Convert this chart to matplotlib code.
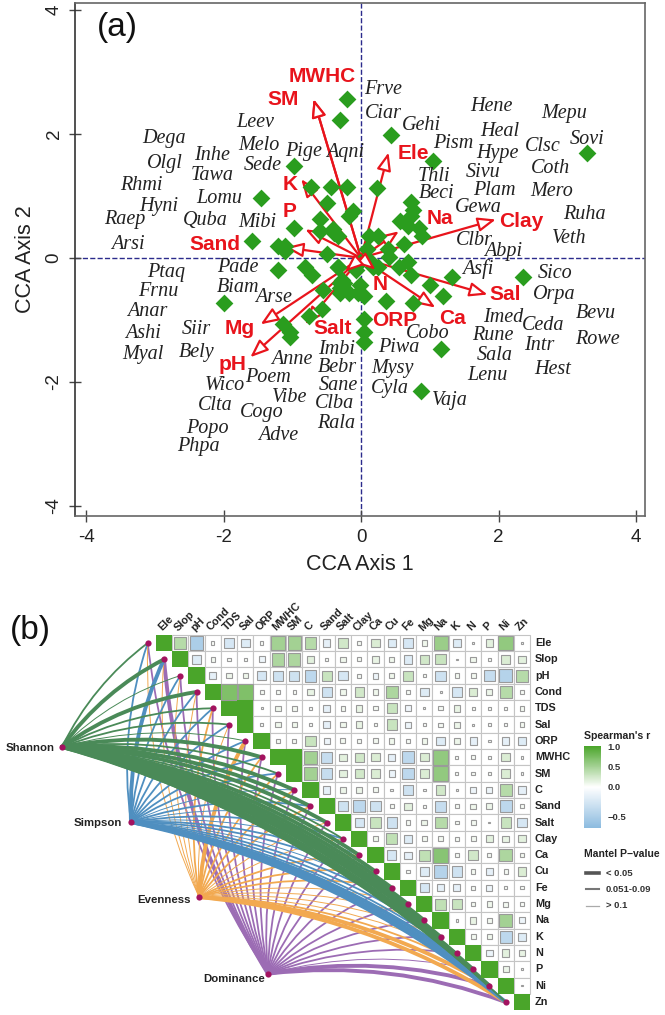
import numpy as np
from matplotlib import pyplot as plt
from matplotlib.colors import LinearSegmentedColormap, TwoSlopeNorm
from matplotlib.cm import ScalarMappable
from matplotlib.patches import Rectangle, PathPatch
from matplotlib.path import Path

plt.rcParams['font.family'] = ['Liberation Sans', 'DejaVu Sans']
plt.rcParams['axes.unicode_minus'] = False

# CCA site scores
site_x = [-0.98, -0.73, -0.43, -1.46, -0.49, -0.59, -0.98, -0.60, -0.41, -1.58, -1.21, -1.10, -1.10, -0.49,
          -1.21, -0.82, -0.71, -0.34, -0.56, -0.21, -0.31, 0.44, 1.04, 3.29, 0.23, -0.20, -0.11, -0.18,
          -0.40, -0.33, 0.73, 0.76, 0.72, 0.57, 0.68, 0.85, 0.88, 0.63, 0.12, 0.25, 0.08, 0.39, 0.40, 0.68,
          0.55, 0.14, 0.25, 0.18, 0.72, 1.33, 2.36, 1.00, -0.01, -0.33, -0.27, -0.30, -0.25, -0.05, -0.30,
          -0.30, -1.99, -1.14, -1.03, -1.03, -0.57, -0.75, 1.19, 0.37, 0.75, 0.04, 0.04, 0.04, 1.16, 0.87,
          -0.18, 0.05, -0.01, -0.08]
site_y = [1.48, 1.15, 1.14, 0.96, 0.88, 0.62, 0.48, 0.44, 0.46, 0.27, 0.20, 0.19, 0.12, 0.06,
          -0.20, -0.15, -0.27, -0.14, -0.51, 2.56, 2.23, 1.99, 1.57, 1.69, 1.12, 1.14, 0.75, 0.67,
          0.41, 0.35, 0.90, 0.78, 0.67, 0.59, 0.51, 0.49, 0.36, 0.22, 0.35, 0.36, 0.15, 0.14, 0.02, -0.06,
          -0.14, -0.07, -0.14, -0.15, -0.28, -0.30, -0.31, -0.43, -0.43, -0.14, -0.35, -0.40, -0.40, -0.56, -0.56,
          -0.48, -0.72, -1.06, -1.19, -1.28, -0.83, -0.94, -0.62, -0.70, -0.73, -0.98, -1.20, -1.36, -1.46, -2.15,
          -0.56, -0.62, -0.07, -0.19]

# environmental vectors
vec_names = ['MWHC', 'SM', 'K', 'P', 'Sand', 'Ele', 'Na', 'Clay', 'Sal', 'Ca', 'N', 'ORP', 'Mg', 'pH', 'Salt']
vec_x = [-0.69, -0.69, -0.87, -0.81, -1.10, 0.40, 0.55, 1.96, 1.84, 1.08, 0.21, -0.23, -1.46, -1.61, -0.81]
vec_y = [2.56, 2.56, 1.27, 0.46, 0.17, 1.70, 0.43, 0.62, -0.59, -0.80, -0.19, -0.22, -1.07, -1.60, -1.07]
vec_label_x = [322, 283, 290, 290, 215, 413, 440, 521, 505, 453, 380, 395, 240, 233, 333]
vec_label_y = [76, 99, 184, 211, 244, 153, 218, 221, 295, 318, 285, 321, 328, 365, 328]

species = ['Dega', 'Olgl', 'Inhe', 'Tawa', 'Rhmi', 'Hyni', 'Lomu', 'Raep', 'Quba', 'Mibi', 'Arsi', 'Leev',
           'Melo', 'Sede', 'Pige', 'Aqni', 'Frve', 'Ciar', 'Gehi', 'Pism', 'Hene', 'Heal', 'Hype', 'Sivu',
           'Plam', 'Gewa', 'Thli', 'Beci', 'Clbr', 'Abpi', 'Mepu', 'Sovi', 'Clsc', 'Coth', 'Mero', 'Ruha',
           'Veth', 'Asfi', 'Sico', 'Orpa', 'Ptaq', 'Frnu', 'Anar', 'Ashi', 'Myal', 'Siir', 'Bely', 'Pade',
           'Biam', 'Arse', 'Anne', 'Poem', 'Wico', 'Clta', 'Cogo', 'Vibe', 'Popo', 'Adve', 'Phpa', 'Imbi',
           'Bebr', 'Sane', 'Clba', 'Rala', 'Cobo', 'Piwa', 'Mysy', 'Cyla', 'Vaja', 'Imed', 'Ceda', 'Bevu',
           'Rune', 'Intr', 'Rowe', 'Sala', 'Hest', 'Lenu']
species_x = [164, 165, 212, 212, 141, 159, 219, 125, 205, 257, 128, 255, 259, 263, 304, 345, 383, 383, 421, 453,
             491, 500, 497, 483, 494, 478, 434, 437, 474, 503, 564, 587, 543, 550, 552, 584, 569, 478, 555, 554,
             166, 158, 147, 143, 143, 196, 197, 238, 238, 274, 292, 268, 225, 215, 262, 290, 207, 278, 198, 337,
             337, 338, 334, 336, 428, 399, 392, 390, 450, 503, 543, 596, 493, 539, 597, 495, 553, 487]
species_y = [138, 163, 155, 175, 185, 206, 198, 219, 220, 222, 244, 122, 145, 165, 151, 152, 89, 113, 125, 143,
             106, 131, 153, 172, 190, 207, 176, 193, 240, 251, 113, 139, 146, 168, 191, 214, 238, 269, 273, 295,
             272, 292, 312, 333, 355, 329, 353, 267, 287, 297, 359, 378, 385, 406, 413, 398, 428, 435, 447, 349,
             367, 385, 404, 423, 333, 347, 368, 388, 401, 318, 325, 314, 336, 346, 340, 355, 369, 376]

# Spearman correlations, upper triangle, one list per row
env = ['Ele', 'Slop', 'pH', 'Cond', 'TDS', 'Sal', 'ORP', 'MWHC', 'SM', 'C', 'Sand', 'Salt', 'Clay', 'Ca', 'Cu',
       'Fe', 'Mg', 'Na', 'K', 'N', 'P', 'Ni', 'Zn']
r_ele = [.4, -.5, .03, -.25, -.2, .03, .5, .5, .4, -.15, .25, .05, .2, -.2, -.25, .08, .55, -.2, .01, .15, .6, .01]
r_slop = [-.2, .06, .03, .03, -.1, .45, .45, .15, .03, .08, .05, .12, .08, -.2, .25, .3, .005, .08, .02, .2, .15]
r_ph = [-.15, .09, .09, -.25, -.3, -.3, -.4, .3, -.25, .05, -.1, .08, .3, .03, -.3, .06, .07, -.35, -.45, .4]
r_cond = [.7, .7, .05, .04, .03, .12, -.3, .08, .25, .08, .45, .04, -.2, .01, -.25, .2, .1, .4, .04]
r_tds = [1, .01, .08, .07, .02, -.15, .06, .12, .05, .3, -.09, .015, .05, .12, .03, .03, .03, .06]
r_sal = [.02, .08, .08, .02, -.15, .08, .12, .03, .3, -.1, .02, .05, .1, .01, .02, .02, .06]
r_orp = [.05, .05, .3, -.1, .07, .05, .07, .08, .04, .08, -.2, .1, -.15, .02, -.15, -.2]
r_mwhc = [1, .5, -.35, .15, .25, .2, -.15, -.4, .2, .6, .03, .04, .03, .2, .02]
r_sm = [.5, -.35, .15, .25, .2, -.12, -.4, .2, .6, .03, .04, .03, .2, .02]
r_c = [-.15, .1, .1, .07, .02, -.3, .02, .25, .02, -.1, -.1, .4, -.15]
r_sand = [-.3, -.4, -.3, .05, .15, .02, -.35, .05, .08, .1, -.4, .05]
r_salt = [-.25, .3, -.3, .05, .1, .4, .04, .07, .01, .3, -.25]
r_clay = [.08, .35, -.2, .07, .07, .04, .07, .15, .12, .15]
r_ca = [-.25, -.15, .35, .65, .05, .25, .05, .45, .06]
r_cu = [.03, -.2, -.45, -.3, .06, -.15, .05, .2]
r_fe = [-.25, -.15, -.15, .05, -.1, .03, .03]
r_mg = [.35, .3, .06, .08, .07, .03]
r_na = [.02, .12, .07, .5, -.1]
r_k = [.07, .08, -.4, -.2]
r_n = [-.12, .15, .12]
r_p = [.1, .01]
r_ni = [.005]
corr_rows = [r_ele, r_slop, r_ph, r_cond, r_tds, r_sal, r_orp, r_mwhc, r_sm, r_c, r_sand, r_salt, r_clay, r_ca,
             r_cu, r_fe, r_mg, r_na, r_k, r_n, r_p, r_ni]

# Mantel test p-values for each diversity index against each variable
p_shannon = [.07, .03, .2, .03, .07, .07, .2, .03, .07, .03, .03, .03, .07, .03, .03, .03, .03, .03, .03, .07, .03, .03, .07]
p_simpson = [.07, .02, .07, .07, .07, .07, .07, .07, .07, .2, .07, .2, .07, .2, .07, .07, .2, .07, .07, .07, .03, .03, .03]
p_evenness = [.2, .2, .2, .2, .07, .2, .02, .07, .07, .07, .07, .2, .2, .07, .07, .07, .2, .2, .2, .2, .07, .03, .03]
p_dominance = [.07, .03, .07, .07, .07, .07, .07, .07, .07, .07, .07, .07, .07, .07, .07, .07, .07, .07, .07, .07, .2, .03, .03]
indices = ['Dominance', 'Evenness', 'Simpson', 'Shannon']
index_p = [p_dominance, p_evenness, p_simpson, p_shannon]
index_col = [6.39, 2.16, -2.03, -6.27]
index_row = [20.26, 15.57, 10.97, 6.37]
index_colors = ['#9c6cb4', '#f2a950', '#4f8fc0', '#4a8a58']
index_label_x = [234, 164, 98, 30]
index_label_y = [979, 900, 823, 748]

red = '#e8141c'
diamond = '#2a9d1e'
dark_green = '#4aa52a'
node_color = '#a3125f'

fig = plt.figure(figsize=(6.65, 10.15), dpi=100)

# ---- panel (a) ----
ax = fig.add_axes([75/665, 1-516/1015, 570/665, 513/1015])
ax.set_xlim(-4.16, 4.13)
ax.set_ylim(-4.16, 4.11)
ax.axhline(0, color='#2b2b8c', lw=1, ls='--', zorder=1)
ax.axvline(0, color='#2b2b8c', lw=1, ls='--', zorder=1)

for i in range(len(vec_names)):
    top = 4 if vec_names[i] in ('N', 'ORP') else 2
    ax.annotate('', xy=(vec_x[i], vec_y[i]), xytext=(0, 0), zorder=top,
                arrowprops=dict(arrowstyle='-|>,head_length=1.08,head_width=0.43', mutation_scale=10,
                                fc='white', ec=red, lw=1.6, shrinkA=0, shrinkB=0, zorder=top))
ax.scatter(site_x, site_y, marker='D', s=82, color=diamond, linewidths=0, zorder=3)

ax.set_xticks([-4, -2, 0, 2, 4])
ax.set_yticks([-4, -2, 0, 2, 4])
ax.tick_params(axis='both', direction='inout', length=8, width=1, color='#444444', labelsize=13.5,
               labelcolor='#222222', pad=5)
plt.setp(ax.get_yticklabels(), rotation=90, va='center')
for s in ax.spines.values():
    s.set_color('#666666')
    s.set_linewidth(1.2)
ax.spines['left'].set_color('#333333')
ax.set_xlabel('CCA Axis 1', fontsize=15.5, color='#222222', labelpad=6)
ax.set_ylabel('CCA Axis 2', fontsize=15.5, color='#222222', labelpad=7)

# ---- panel (b), one unit per heatmap cell ----
pitch_x = 16.27
pitch_y = 16.32
axb = fig.add_axes([0, 0, 1, 415/1015])
axb.set_xlim(-164/pitch_x, 501/pitch_x)
axb.set_ylim(372/pitch_y, -43/pitch_y)
axb.axis('off')

n = len(env)
env_x = np.arange(n) - 1.0
env_y = np.arange(n, dtype=float)


def link_width(p):
    if p < 0.05:
        return 2.8
    if p <= 0.09:
        return 1.3
    return 0.7


def draw_link(x0, y0, x1, y1, color, lw):
    # quadratic curve bowed to the left of the travel direction
    dx, dy = x1-x0, y1-y0
    cx = (x0+x1)/2 + 0.12*dy
    cy = (y0+y1)/2 - 0.12*dx
    path = Path([(x0, y0), (cx, cy), (x1, y1)], [Path.MOVETO, Path.CURVE3, Path.CURVE3])
    axb.add_patch(PathPatch(path, fc='none', ec=color, lw=lw, capstyle='round', zorder=2))


for k in range(len(indices)):
    for j in range(n):
        draw_link(index_col[k], index_row[k], env_x[j], env_y[j], index_colors[k], link_width(index_p[k][j]))

cmap = LinearSegmentedColormap.from_list('spearman', ['#8cbbdf', '#ffffff', dark_green])
norm = TwoSlopeNorm(vcenter=0, vmin=-0.7, vmax=1)

for i in range(n):
    axb.add_patch(Rectangle((i-0.5, i-0.5), 1, 1, fc=dark_green, ec='none', zorder=4))
    if i == n-1:
        continue
    for j in range(i+1, n):
        axb.add_patch(Rectangle((j-0.5, i-0.5), 1, 1, fc='white', ec='#c4c4c4', lw=0.8, zorder=3))
for i in range(n-1):
    for j in range(i+1, n):
        r = corr_rows[i][j-i-1]
        size = min(1.0, 1.15*np.sqrt(abs(r)))
        edge = 'none' if size >= 1 else '#9a9a9a'
        axb.add_patch(Rectangle((j-size/2, i-size/2), size, size, fc=cmap(norm(r)), ec=edge, lw=0.8, zorder=4))

axb.scatter(env_x, env_y, s=20, color=node_color, linewidths=0, zorder=5)
axb.scatter(index_col, index_row, s=20, color=node_color, linewidths=0, zorder=5)

for i in range(n):
    axb.text(n-0.2, i, env[i], fontsize=7.8, fontweight='bold', color='#222222', ha='left', va='center')
    axb.text(i-0.25, -0.85, env[i], fontsize=7.8, fontweight='bold', color='#222222', rotation=45,
             rotation_mode='anchor', ha='left', va='center')

# colour bar
cax = fig.add_axes([584/665, 1-828/1015, 16.7/665, 82/1015])
cb = fig.colorbar(ScalarMappable(norm=norm, cmap=cmap), cax=cax)
cb.outline.set_visible(False)
cb.set_ticks([-0.5, 0, 0.5, 1.0])
cb.set_ticklabels(['\u22120.5', '0.0', '0.5', '1.0'])
cax.tick_params(length=0, labelsize=6.8, pad=5, labelcolor='#333333')
for t in cax.get_yticklabels():
    t.set_fontweight('bold')

# text and legend keys placed in figure pixels
over = fig.add_axes([0, 0, 1, 1], facecolor='none')
over.set_xlim(0, 665)
over.set_ylim(1015, 0)
over.axis('off')

for i in range(len(species)):
    over.text(species_x[i], species_y[i], species[i], family='Liberation Serif', style='italic', fontsize=14.5,
              color='#222222', ha='center', va='center')
for i in range(len(vec_names)):
    over.text(vec_label_x[i], vec_label_y[i], vec_names[i], fontsize=15, fontweight='bold', color=red,
              ha='center', va='center')
for k in range(len(indices)):
    over.text(index_label_x[k], index_label_y[k], indices[k], fontsize=8.2, fontweight='bold', color='#222222',
              ha='center', va='center')

over.text(117, 27, '(a)', fontsize=24, color='#111111', ha='center', va='center')
over.text(30, 630, '(b)', fontsize=24, color='#111111', ha='center', va='center')

over.text(584, 736, "Spearman's r", fontsize=7.6, fontweight='bold', color='#222222', ha='left', va='center')
over.text(584, 854, 'Mantel P\u2212value', fontsize=7.5, fontweight='bold', color='#222222', ha='left', va='center')
legend_labels = ['< 0.05', '0.051-0.09', '> 0.1']
legend_y = [873, 889, 906]
legend_lw = [2.6, 1.5, 0.9]
legend_col = ['#555555', '#777777', '#aaaaaa']
for i in range(3):
    over.plot([586, 599], [legend_y[i], legend_y[i]], color=legend_col[i], lw=legend_lw[i])
    over.text(606, legend_y[i], legend_labels[i], fontsize=6.8, fontweight='bold', color='#333333',
              ha='left', va='center')

fig.savefig('out.png', dpi=100)
